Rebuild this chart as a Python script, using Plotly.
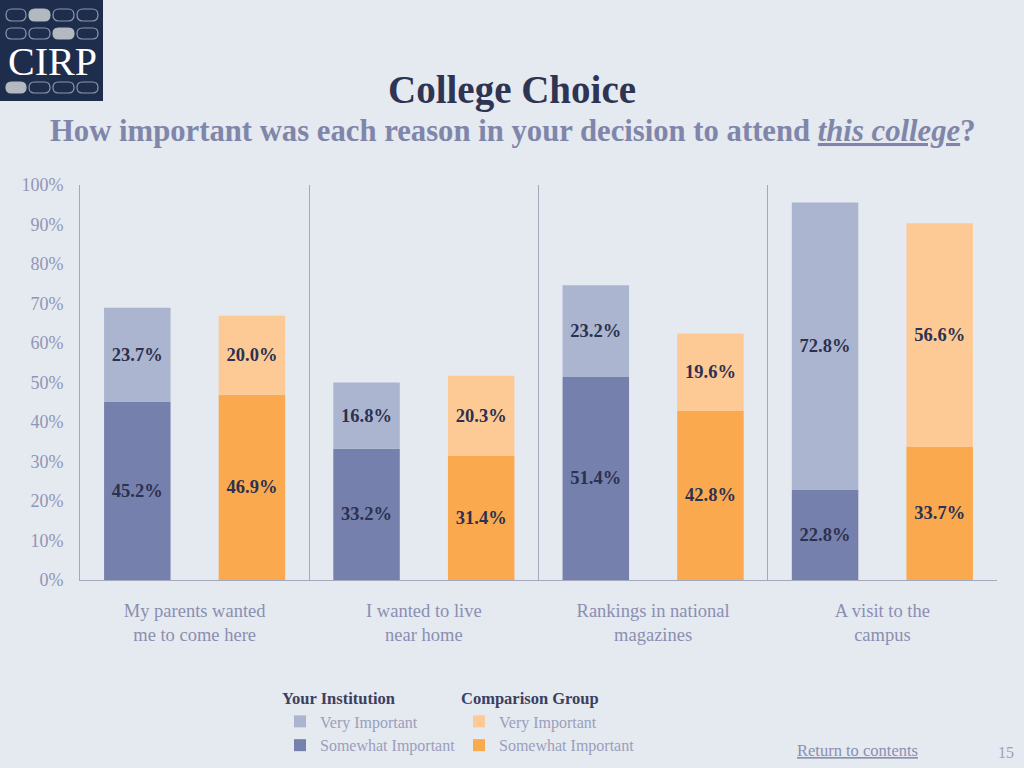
import plotly.graph_objects as go

categories = ["My parents wanted<br>me to come here", "I wanted to live<br>near home",
              "Rankings in national<br>magazines", "A visit to the<br>campus"]
inst_somewhat = [45.2, 33.2, 51.4, 22.8]
inst_very = [23.7, 16.8, 23.2, 72.8]
comp_somewhat = [46.9, 31.4, 42.8, 33.7]
comp_very = [20.0, 20.3, 19.6, 56.6]
y_ticks = list(range(0, 101, 10))
y_tick_labels = [f"{v}%" for v in y_ticks]

BG = "#e5e9f0"
SERIF = "Liberation Serif"
C_INST_S = "#7680ad"
C_INST_V = "#abb5cf"
C_COMP_S = "#fba94f"
C_COMP_V = "#fdca96"
LABEL = "#2b3150"

# plot area in pixels
L, R, T, B = 80, 997, 185, 580
PW, PH = R - L, B - T


def pxx(x):
    return (x - L) / PW


def pyy(y):
    return (B - y) / PH


fig = go.Figure()


def add(vals, base, color, name, group, legend):
    fig.add_trace(go.Bar(
        x=categories, y=vals, base=base, name=name, offsetgroup=group,
        marker=dict(color=color, line=dict(width=0)),
        text=[f"{v:.1f}%" for v in vals], textposition="inside",
        insidetextanchor="middle", textangle=0,
        textfont=dict(family=SERIF, size=18.5, color=LABEL, weight="bold"),
        legend=legend, hoverinfo="skip",
    ))


add(inst_somewhat, None, C_INST_S, "Somewhat Important", "inst", "legend")
add(inst_very, inst_somewhat, C_INST_V, "Very Important", "inst", "legend")
add(comp_somewhat, None, C_COMP_S, "Somewhat Important", "comp", "legend2")
add(comp_very, comp_somewhat, C_COMP_V, "Very Important", "comp", "legend2")

leg_common = dict(
    orientation="v", traceorder="reversed", yanchor="top", xanchor="left",
    bgcolor="rgba(0,0,0,0)", font=dict(family=SERIF, size=16, color="#9a9fbb"),
    itemwidth=30, tracegroupgap=0,
)
fig.update_layout(
    legend=dict(**leg_common, x=pxx(280), y=pyy(683),
                title=dict(text="<b>Your Institution</b>", side="top",
                           font=dict(family=SERIF, size=16.5, color="#3b4060"))),
    legend2=dict(**leg_common, x=pxx(459), y=pyy(683),
                 title=dict(text="<b>Comparison Group</b>", side="top",
                            font=dict(family=SERIF, size=16.5, color="#3b4060"))),
)

fig.update_layout(
    width=1024, height=768,
    paper_bgcolor=BG, plot_bgcolor=BG,
    margin=dict(l=L, r=1024 - R, t=T, b=768 - B, autoexpand=False),
    barmode="group", bargap=0.0, bargroupgap=0.42,
    showlegend=True,
    xaxis=dict(
        type="category", tickson="boundaries", showgrid=True, gridcolor="#a3a8bd",
        gridwidth=1, ticks="", showline=True, linecolor="#a3a8bd", linewidth=1,
        tickfont=dict(family=SERIF, size=18.5, color="#8a8fb0"),
        ticklabelstandoff=14, zeroline=False, automargin=False,
    ),
    yaxis=dict(
        range=[0, 100], tickvals=y_ticks, ticktext=y_tick_labels, showgrid=False,
        showline=True, linecolor="#a3a8bd", linewidth=1, ticks="", zeroline=False,
        tickfont=dict(family=SERIF, size=18, color="#9096b5"), ticklabelstandoff=12,
        automargin=False,
    ),
    font=dict(family=SERIF),
)

# Titles
fig.add_annotation(text="<b>College Choice</b>", xref="paper", yref="paper",
                   x=pxx(512), y=pyy(90), xanchor="center", yanchor="middle",
                   showarrow=False, font=dict(family=SERIF, size=39, color="#2e3452"))
fig.add_annotation(
    text='<b>How important was each reason in your decision to attend '
         '<span style="text-decoration:underline"><i>this college</i></span>?</b>',
    xref="paper", yref="paper", x=pxx(512), y=pyy(131),
    xanchor="center", yanchor="middle", showarrow=False,
    font=dict(family=SERIF, size=30.7, color="#8086aa"))

# Footer
fig.add_annotation(text='<span style="text-decoration:underline">Return to contents</span>',
                   xref="paper", yref="paper", x=pxx(857), y=pyy(750),
                   xanchor="center", yanchor="middle", showarrow=False,
                   font=dict(family=SERIF, size=16.5, color="#8a8fb0"))
fig.add_annotation(text="15", xref="paper", yref="paper", x=pxx(1006),
                   y=pyy(752), xanchor="center", yanchor="middle", showarrow=False,
                   font=dict(family=SERIF, size=16, color="#9a9fbb"))

# Logo (decorative)
shapes = [dict(type="rect", xref="paper", yref="paper", x0=pxx(0), x1=pxx(103),
               y0=pyy(101), y1=pyy(0), fillcolor="#1f2d4d", line=dict(width=0), layer="above")]
pill_x = [(6, 26), (29, 50), (53, 74), (77, 98)]
rows = [((9, 21), 1), ((28, 39), 2), ((82, 93), 0)]
for (y0, y1), filled in rows:
    r = (y1 - y0) / 2
    for i, (x0, x1) in enumerate(pill_x):
        fill = "#b3b9c0" if i == filled else "rgba(0,0,0,0)"
        lc = "#b3b9c0" if i == filled else "#8d97ad"
        xa, xb = pxx(x0 + r), pxx(x1 - r)
        path = (f"M{xa},{pyy(y0)} L{xb},{pyy(y0)} "
                f"Q{pxx(x1)},{pyy(y0)} {pxx(x1)},{pyy(y0 + r)} "
                f"Q{pxx(x1)},{pyy(y1)} {xb},{pyy(y1)} "
                f"L{xa},{pyy(y1)} "
                f"Q{pxx(x0)},{pyy(y1)} {pxx(x0)},{pyy(y0 + r)} "
                f"Q{pxx(x0)},{pyy(y0)} {xa},{pyy(y0)} Z")
        shapes.append(dict(type="path", xref="paper", yref="paper", path=path,
                           fillcolor=fill, line=dict(color=lc, width=1.2), layer="above"))
fig.update_layout(shapes=shapes)
fig.add_annotation(text="CIRP", xref="paper", yref="paper", x=pxx(52), y=pyy(62),
                   xanchor="center", yanchor="middle", showarrow=False,
                   font=dict(family=SERIF, size=40, color="white"))

fig.write_html("out.html", config={"displayModeBar": False},
               post_script="document.body.style.margin='0';document.body.style.overflow='hidden';")
